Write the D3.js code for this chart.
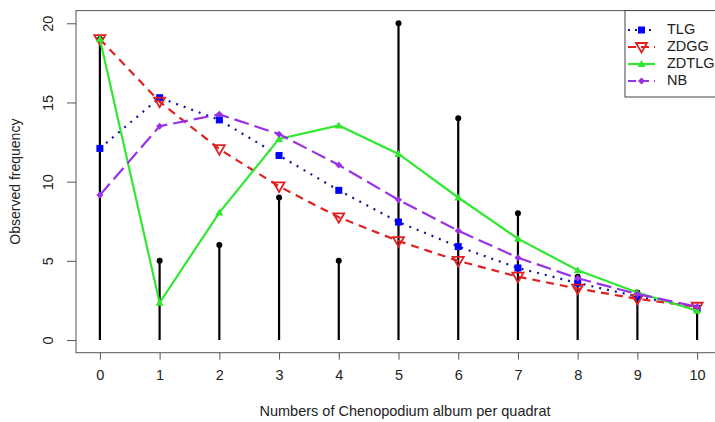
<!DOCTYPE html>
<html lang="en">
<head>
  <meta charset="UTF-8">
  <title>Observed frequency</title>
  <style>
    body { margin: 0; background: #fff; }
    svg { display: block; }
    text { font-family: "Liberation Sans", Arial, sans-serif; fill: #222; }
  </style>
</head>
<body>
  <svg width="715" height="422"></svg>

  <script src="https://d3js.org/d3.v7.min.js"></script>
  <script>
  // 1. data
  var counts   = [0, 1, 2, 3, 4, 5, 6, 7, 8, 9, 10];
  var observed = [19, 5, 6, 9, 5, 20, 14, 8, 4, 3, 2];
  var tlg   = [12.1, 15.3, 13.9, 11.65, 9.45, 7.45, 5.9, 4.55, 3.6, 2.75, 2.0];
  var zdgg  = [19.0, 15.05, 12.05, 9.7, 7.75, 6.25, 5.0, 4.0, 3.25, 2.6, 2.1];
  var zdtlg = [19.0, 2.35, 8.05, 12.7, 13.55, 11.75, 9.0, 6.4, 4.4, 3.0, 1.85];
  var nb    = [9.15, 13.5, 14.25, 13.0, 11.05, 8.85, 6.9, 5.2, 3.9, 2.9, 2.1];
  var xTicks = [0, 1, 2, 3, 4, 5, 6, 7, 8, 9, 10];
  var yTicks = [0, 5, 10, 15, 20];

  var series = [
    { name: "TLG",   values: tlg,   line: "#1414a0", color: "#0000ff", dash: "2,6",  marker: "square" },
    { name: "ZDGG",  values: zdgg,  line: "#e02020", color: "#e02020", dash: "8,6",  marker: "tridown" },
    { name: "ZDTLG", values: zdtlg, line: "#30e830", color: "#30e830", dash: null,   marker: "triup" },
    { name: "NB",    values: nb,    line: "#9a30e8", color: "#9a30e8", dash: "15,6", marker: "diamond" }
  ];

  // 2. scales
  var svg = d3.select("svg");
  var x = d3.scaleLinear().domain([-0.4, 10.4]).range([76, 721]);
  var y = d3.scaleLinear().domain([-0.8, 20.8]).range([352.7, 10.6]);

  // 3. axes
  var xAxis = svg.append("g")
    .attr("transform", "translate(0," + y(-0.8) + ")")
    .call(d3.axisBottom(x).tickValues(xTicks).tickSize(7).tickSizeOuter(0).tickPadding(10));
  var yAxis = svg.append("g")
    .attr("transform", "translate(" + x(-0.4) + ",0)")
    .call(d3.axisLeft(y).tickValues(yTicks).tickSize(9).tickSizeOuter(0));

  [xAxis, yAxis].forEach(function(a) {
    a.select(".domain").remove();
    a.selectAll("line").attr("stroke", "#555");
    a.selectAll("text").attr("font-size", 14.5).attr("font-family", "Liberation Sans, Arial, sans-serif").attr("fill", "#222");
  });
  yAxis.selectAll(".tick text")
    .attr("text-anchor", "middle")
    .attr("x", 0).attr("dy", 0)
    .attr("transform", "translate(-27,0) rotate(-90)")
    .attr("dominant-baseline", "middle");

  svg.append("rect")
    .attr("x", x(-0.4)).attr("y", y(20.8))
    .attr("width", x(10.4) - x(-0.4)).attr("height", y(-0.8) - y(20.8))
    .attr("fill", "none").attr("stroke", "#555");

  svg.append("text")
    .attr("x", 405).attr("y", 416)
    .attr("text-anchor", "middle").attr("font-size", 14.5)
    .text("Numbers of Chenopodium album per quadrat");

  svg.append("text")
    .attr("transform", "translate(20," + ((y(-0.8) + y(20.8)) / 2) + ") rotate(-90)")
    .attr("text-anchor", "middle").attr("font-size", 14)
    .text("Observed frequency");

  // 4. observed stems
  svg.append("g").selectAll("line")
    .data(counts)
    .enter().append("line")
    .attr("x1", function(d) { return x(d); }).attr("x2", function(d) { return x(d); })
    .attr("y1", y(0)).attr("y2", function(d, i) { return y(observed[i]); })
    .attr("stroke", "#000").attr("stroke-width", 2.2);
  svg.append("g").selectAll("circle")
    .data(counts)
    .enter().append("circle")
    .attr("cx", function(d) { return x(d); })
    .attr("cy", function(d, i) { return y(observed[i]); })
    .attr("r", 3).attr("fill", "#000");

  // 5. fitted lines
  function drawMarker(g, s, cx, cy) {
    if (s.marker === "square") {
      g.append("rect").attr("x", cx - 3.5).attr("y", cy - 3.5).attr("width", 7).attr("height", 7).attr("fill", s.color);
    } else if (s.marker === "tridown") {
      g.append("path")
        .attr("d", "M" + (cx - 5.5) + "," + (cy - 4) + "L" + (cx + 5.5) + "," + (cy - 4) + "L" + cx + "," + (cy + 5.5) + "Z")
        .attr("fill", "none").attr("stroke", s.color).attr("stroke-width", 1.8);
    } else if (s.marker === "triup") {
      g.append("path")
        .attr("d", "M" + (cx - 4) + "," + (cy + 3) + "L" + (cx + 4) + "," + (cy + 3) + "L" + cx + "," + (cy - 4) + "Z")
        .attr("fill", s.color);
    } else {
      g.append("path")
        .attr("d", "M" + cx + "," + (cy - 3.5) + "L" + (cx + 3.5) + "," + cy + "L" + cx + "," + (cy + 3.5) + "L" + (cx - 3.5) + "," + cy + "Z")
        .attr("fill", s.color);
    }
  }

  var line = d3.line()
    .x(function(d) { return x(d[0]); })
    .y(function(d) { return y(d[1]); });

  series.forEach(function(s) {
    var g = svg.append("g");
    g.append("path")
      .datum(counts.map(function(c, i) { return [c, s.values[i]]; }))
      .attr("d", line)
      .attr("fill", "none").attr("stroke", s.line).attr("stroke-width", 2.2)
      .attr("stroke-dasharray", s.dash);
    counts.forEach(function(c, i) { drawMarker(g, s, x(c), y(s.values[i])); });
  });

  // 6. legend
  var lg = svg.append("g");
  lg.append("rect")
    .attr("x", 625).attr("y", y(20.8))
    .attr("width", x(10.4) - 625).attr("height", 97 - y(20.8))
    .attr("fill", "#fff").attr("stroke", "#444");
  series.forEach(function(s, i) {
    var ly = 30 + i * 17;
    lg.append("line")
      .attr("x1", 628).attr("x2", 655).attr("y1", ly).attr("y2", ly)
      .attr("stroke", s.line).attr("stroke-width", 2.2)
      .attr("stroke-dasharray", s.dash ? (s.marker === "square" ? "2,5" : "8,5") : null);
    drawMarker(lg, s, 641.5, ly);
    lg.append("text")
      .attr("x", 667).attr("y", ly)
      .attr("dominant-baseline", "middle")
      .attr("font-size", 14.5)
      .text(s.name);
  });
  </script>
</body>
</html>
